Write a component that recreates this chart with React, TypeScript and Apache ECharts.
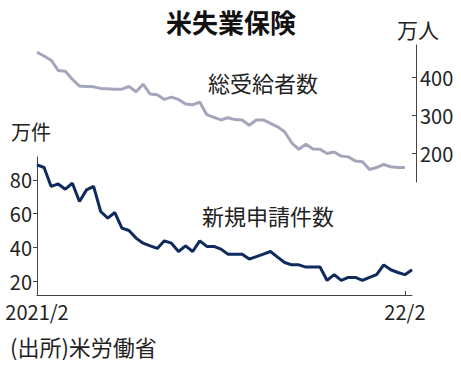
import React, { useEffect, useRef } from "react";
import * as echarts from "echarts";

// 総受給者数 (万人), weekly from 2021/2
const continuingClaims = [
  466, 456, 445, 418, 416, 395, 377, 376, 375, 371, 370, 369, 369, 376, 362, 382,
  356, 354, 342, 348, 342, 330, 328, 335, 302, 295, 288, 294, 289, 288, 274, 288,
  288, 279, 270, 257, 228, 211, 224, 212, 211, 200, 204, 193, 191, 180, 178, 158,
  163, 171, 165, 163, 163,
];

// 新規申請件数 (万件), weekly from 2021/2
const initialClaims = [
  88.9, 87.3, 76.1, 77.6, 74.5, 78, 67.2, 74.1, 76.1, 61.3, 57.4, 60.7, 51.5, 50.1,
  45.6, 42.6, 41, 39.5, 44, 42.6, 37.7, 41, 37.7, 44, 40.7, 40.7, 39.1, 36.1, 36.1,
  36.1, 33.2, 34.7, 36.1, 37.7, 34.4, 31.2, 29.8, 29.8, 28.5, 28.5, 28.5, 20.6, 24,
  20.6, 22.4, 22.4, 20.6, 22.4, 24, 29.8, 26.9, 25.3, 24, 26.9,
];

const xTickIndex = [0, 52];
const xTickLabels = ["2021/2", "22/2"];
const leftTicks = [20, 40, 60, 80];
const rightTicks = [200, 300, 400];

const FONT = "'Noto Sans CJK JP', 'Noto Sans', sans-serif";
const AXIS_COLOR = "#444";
const TEXT_COLOR = "#222";

export default function App() {
  const ref = useRef<HTMLDivElement>(null);
  useEffect(() => {
    document.body.style.margin = "0";
    if (!ref.current) return;
    const chart = echarts.init(ref.current, undefined, { renderer: "svg" });
    chart.setOption({
      animation: false,
      backgroundColor: "#fff",
      textStyle: { fontFamily: FONT },
      grid: [
        { left: 37, top: 45, width: 379, height: 137 },
        { left: 37, top: 157, width: 375, height: 138 },
      ],
      xAxis: [
        { gridIndex: 0, type: "value", min: 0, max: 53.57, show: false },
        {
          gridIndex: 1,
          type: "value",
          min: 0,
          max: 53,
          splitLine: { show: false },
          axisLine: { onZero: false, lineStyle: { color: AXIS_COLOR, width: 1 } },
          axisTick: {
            inside: true,
            length: 4,
            lineStyle: { color: AXIS_COLOR },
            customValues: xTickIndex,
          },
          axisLabel: {
            customValues: xTickIndex,
            formatter: (v: number) => xTickLabels[xTickIndex.indexOf(v)] ?? "",
            color: TEXT_COLOR,
            fontSize: 20,
            fontFamily: FONT,
            margin: 6,
            showMinLabel: true,
            showMaxLabel: true,
          },
        },
      ],
      yAxis: [
        {
          gridIndex: 0,
          type: "value",
          position: "right",
          min: 125,
          max: 485,
          splitLine: { show: false },
          axisLine: { show: true, onZero: false, lineStyle: { color: AXIS_COLOR, width: 1 } },
          axisTick: {
            show: true,
            inside: true,
            length: 4,
            lineStyle: { color: AXIS_COLOR },
            customValues: rightTicks,
          },
          axisLabel: {
            customValues: rightTicks,
            color: TEXT_COLOR,
            fontSize: 20,
            fontFamily: FONT,
            margin: 4,
          },
        },
        {
          gridIndex: 1,
          type: "value",
          position: "left",
          min: 12,
          max: 93.5,
          splitLine: { show: false },
          axisLine: { show: true, onZero: false, lineStyle: { color: AXIS_COLOR, width: 1 } },
          axisTick: {
            show: true,
            inside: false,
            length: 4,
            lineStyle: { color: AXIS_COLOR },
            customValues: leftTicks,
          },
          axisLabel: {
            customValues: leftTicks,
            color: TEXT_COLOR,
            fontSize: 20,
            fontFamily: FONT,
            margin: 5,
          },
        },
      ],
      series: [
        {
          type: "line",
          xAxisIndex: 0,
          yAxisIndex: 0,
          data: continuingClaims.map((v, i) => [i, v]),
          showSymbol: false,
          lineStyle: { color: "#a4a6bb", width: 3 },
          itemStyle: { color: "#a4a6bb" },
        },
        {
          type: "line",
          xAxisIndex: 1,
          yAxisIndex: 1,
          data: initialClaims.map((v, i) => [i, v]),
          showSymbol: false,
          lineStyle: { color: "#0f2a5c", width: 3 },
          itemStyle: { color: "#0f2a5c" },
        },
      ],
      graphic: [
        {
          type: "text",
          x: 231,
          y: 21,
          style: {
            text: "米失業保険",
            fontSize: 26,
            fontWeight: "bold",
            fontFamily: FONT,
            fill: "#111",
            align: "center",
            verticalAlign: "middle",
          },
        },
        {
          type: "text",
          x: 418,
          y: 29,
          style: {
            text: "万人",
            fontSize: 21,
            fontFamily: FONT,
            fill: TEXT_COLOR,
            align: "center",
            verticalAlign: "middle",
          },
        },
        {
          type: "text",
          x: 31,
          y: 131,
          style: {
            text: "万件",
            fontSize: 20,
            fontFamily: FONT,
            fill: TEXT_COLOR,
            align: "center",
            verticalAlign: "middle",
          },
        },
        {
          type: "text",
          x: 263,
          y: 82,
          style: {
            text: "総受給者数",
            fontSize: 22,
            fontFamily: FONT,
            fill: TEXT_COLOR,
            align: "center",
            verticalAlign: "middle",
          },
        },
        {
          type: "text",
          x: 268,
          y: 215,
          style: {
            text: "新規申請件数",
            fontSize: 22,
            fontFamily: FONT,
            fill: TEXT_COLOR,
            align: "center",
            verticalAlign: "middle",
          },
        },
        {
          type: "text",
          x: 10,
          y: 346,
          style: {
            text: "(出所)米労働省",
            fontSize: 22,
            fontFamily: FONT,
            fill: TEXT_COLOR,
            align: "left",
            verticalAlign: "middle",
          },
        },
      ],
    });
    return () => chart.dispose();
  }, []);
  return <div ref={ref} style={{ width: 461, height: 365 }} />;
}
